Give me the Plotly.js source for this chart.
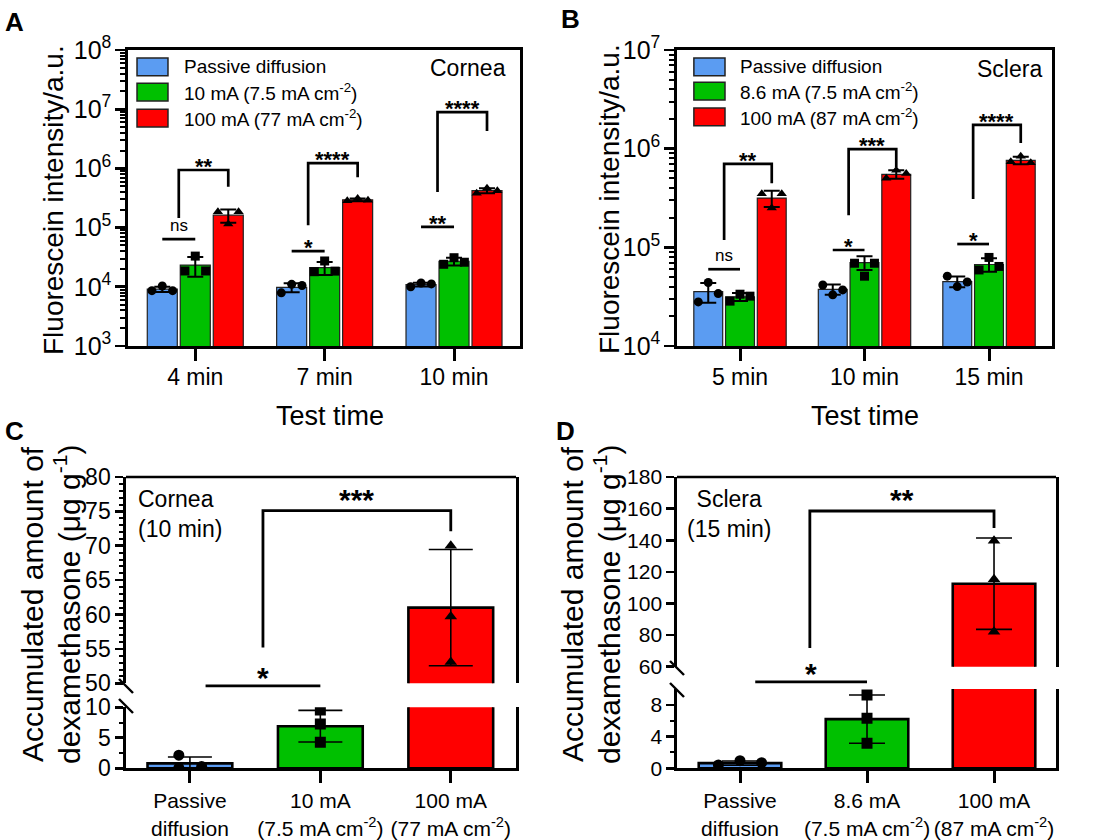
<!DOCTYPE html>
<html><head><meta charset="utf-8">
<script src="https://cdn.plot.ly/plotly-3.0.1.min.js"></script>
<style>html,body{margin:0;padding:0;background:#fff}</style>
</head><body><div id="chart" style="width:1096px;height:840px"></div>
<script>
// ---------------- DATA ----------------
// Panel A : cornea, fluorescein intensity (a.u.)
const timesA = ['4 min', '7 min', '10 min'];
const seriesA = ['Passive diffusion', '10 mA (7.5 mA cm<sup>-2</sup>)', '100 mA (77 mA cm<sup>-2</sup>)'];
const passiveMeanA = [9.1e3, 9.8e3, 1.09e4];
const passiveSdA   = [0.9e3, 1.7e3, 0.8e3];
const passivePtsA  = [[8.6e3, 1.03e4, 8.6e3], [7.9e3, 1.1e4, 1.05e4], [1.0e4, 1.16e4, 1.12e4]];
const lowMeanA = [2.33e4, 2.1e4, 2.7e4];
const lowSdA   = [0.85e4, 0.52e4, 0.4e4];
const lowPtsA  = [[1.85e4, 3.3e4, 1.85e4], [1.8e4, 2.73e4, 1.84e4], [2.4e4, 3.1e4, 2.6e4]];
const highMeanA = [1.62e5, 2.95e5, 4.2e5];
const highSdA   = [0.41e5, 0.15e5, 0.4e5];
const highPtsA  = [[1.86e5, 1.15e5, 1.86e5], [2.85e5, 3.1e5, 2.9e5], [3.8e5, 4.6e5, 4.2e5]];
// significance: pair = passive vs low current; bracket = (passive/low) vs high current
const sigPairA    = [{level: 6.4e4, label: 'ns'}, {level: 4.0e4, label: '*'}, {level: 1.03e5, label: '**'}];
const sigBracketA = [{left: 1.45e5, top: 9.4e5, right: 4.9e5, label: '**'},
                     {left: 1.1e5, top: 1.23e6, right: 7.1e5, label: '****'},
                     {left: 4.0e5, top: 8.9e6, right: 4.3e6, label: '****'}];

// Panel B : sclera, fluorescein intensity (a.u.)
const timesB = ['5 min', '10 min', '15 min'];
const seriesB = ['Passive diffusion', '8.6 mA (7.5 mA cm<sup>-2</sup>)', '100 mA (87 mA cm<sup>-2</sup>)'];
const passiveMeanB = [3.55e4, 3.75e4, 4.5e4];
const passiveSdB   = [0.8e4, 0.45e4, 0.57e4];
const passivePtsB  = [[2.8e4, 4.4e4, 3.4e4], [4.15e4, 3.3e4, 3.7e4], [5.1e4, 4.0e4, 4.45e4]];
const lowMeanB = [3.15e4, 7.0e4, 6.7e4];
const lowSdB   = [0.3e4, 1.1e4, 1.05e4];
const lowPtsB  = [[2.85e4, 3.35e4, 3.2e4], [6.9e4, 5.1e4, 6.9e4], [5.9e4, 7.9e4, 6.4e4]];
const highMeanB = [3.16e5, 5.5e5, 7.6e5];
const highSdB   = [0.59e5, 0.54e5, 0.66e5];
const highPtsB  = [[3.5e5, 2.5e5, 3.5e5], [5.0e5, 6.05e5, 5.6e5], [7.35e5, 8.4e5, 7.2e5]];
const sigPairB    = [{level: 6.0e4, label: 'ns'}, {level: 9.4e4, label: '*'}, {level: 1.08e5, label: '*'}];
const sigBracketB = [{left: 1.19e5, top: 7.0e5, right: 4.46e5, label: '**'},
                     {left: 2.12e5, top: 9.9e5, right: 6.5e5, label: '***'},
                     {left: 3.09e5, top: 1.74e6, right: 1.14e6, label: '****'}];

// Panel C : cornea (10 min), dexamethasone (ug/g)
const groupsC = ['Passive<br>diffusion', '10 mA<br>(7.5 mA cm<sup>-2</sup>)', '100 mA<br>(77 mA cm<sup>-2</sup>)'];
const meanC = [0.8, 6.9, 61.0];
const sdC   = [1.05, 2.6, 8.45];
const ptsC  = [[2.15, 0.05, 0.3], [9.55, 7.25, 4.25], [70.0, 59.7, 53.1]];
const sigC  = {pair: {from: 0.12, to: 1.0, level: 13.5, label: '*'},
               bracket: {lx: 0.56, rx: 2.0, left: 55.2, top: 75.1, right: 72.1, label: '***'}};

// Panel D : sclera (15 min), dexamethasone (ug/g)
const groupsD = ['Passive<br>diffusion', '8.6 mA<br>(7.5 mA cm<sup>-2</sup>)', '100 mA<br>(87 mA cm<sup>-2</sup>)'];
const meanD = [0.65, 6.2, 112.5];
const sdD   = [0.27, 3.05, 28.9];
const ptsD  = [[0.42, 0.96, 0.71], [9.25, 6.3, 3.15], [139.7, 115.3, 82.1]];
const sigD  = {pair: {from: 0.12, to: 1.0, level: 10.9, label: '*'},
               bracket: {lx: 0.55, rx: 2.0, left: 71.8, top: 158.5, right: 147.7, label: '**'}};

// ---------------- STYLE ----------------
const W = 1096, H = 840;
const px = v => v / W;
const py = v => 1 - v / H;
const FONT = 'Liberation Sans, Arial, Helvetica, sans-serif';
const BLUE = '#5b9cf2', GREEN = '#00c000', RED = '#ff0000';
const COLORS = [BLUE, GREEN, RED];
const SYMBOLS = ['circle', 'square', 'triangle-up'];
const SLOT = 0.255, BARW = 0.232, JIT = [-0.08, 0, 0.08];
const jitC = [[-0.085, -0.085, 0.09], [0, 0, 0], [0, 0, 0]];
const jitD = [[-0.17, 0, 0.17], [0, 0, 0], [0, 0, 0]];

const traces = [];
const shapes = [];
const annotations = [];

function groupedPanel(xa, ya, means, sds, pts) {
  means.forEach((m, k) => {
    const off = (k - 1) * SLOT;
    traces.push({type: 'bar', x: m.map((_, i) => i + off), y: m, width: BARW,
      xaxis: xa, yaxis: ya, showlegend: false, hoverinfo: 'skip',
      marker: {color: COLORS[k], line: {color: '#222', width: 1.2}},
      error_y: {type: 'data', array: sds[k], visible: true, color: '#000', thickness: 2, width: 8}});
  });
  pts.forEach((groups, k) => {
    const off = (k - 1) * SLOT;
    const xs = [], ys = [];
    groups.forEach((trip, i) => trip.forEach((v, j) => { xs.push(i + off + JIT[j]); ys.push(v); }));
    traces.push({type: 'scatter', mode: 'markers', x: xs, y: ys, xaxis: xa, yaxis: ya,
      showlegend: false, hoverinfo: 'skip', cliponaxis: false,
      marker: {symbol: SYMBOLS[k], color: '#000', size: 9}});
  });
}

function groupedSig(xa, ya, pairs, brackets) {
  const xs = [], ys = [];
  pairs.forEach((p, i) => {
    xs.push(i - SLOT, i, null); ys.push(p.level, p.level, null);
    const isNs = p.label === 'ns';
    annotations.push({xref: xa, yref: ya, x: i - SLOT / 2, y: Math.log10(p.level), text: p.label,
      showarrow: false, yanchor: 'bottom', yshift: isNs ? 2 : -11,
      font: {size: isNs ? 17 : 22, color: '#000', family: FONT, weight: isNs ? 'normal' : 'bold'}});
  });
  brackets.forEach((b, i) => {
    const lx = i - SLOT / 2, rx = i + SLOT;
    xs.push(lx, lx, rx, rx, null); ys.push(b.left, b.top, b.top, b.right, null);
    annotations.push({xref: xa, yref: ya, x: (lx + rx) / 2, y: Math.log10(b.top), text: b.label,
      showarrow: false, yanchor: 'bottom', yshift: -11,
      font: {size: 22, color: '#000', family: FONT, weight: 'bold'}});
  });
  traces.push({type: 'scatter', mode: 'lines', x: xs, y: ys, xaxis: xa, yaxis: ya,
    showlegend: false, hoverinfo: 'skip', line: {color: '#000', width: 2.7}});
}

function brokenPanel(xa, yaxes, means, sds, pts, jit, capW) {
  yaxes.forEach(ya => {
    traces.push({type: 'bar', x: [0, 1, 2], y: means, width: 0.65, xaxis: xa, yaxis: ya,
      showlegend: false, hoverinfo: 'skip',
      marker: {color: COLORS, line: {color: '#000', width: 2.6}},
      error_y: {type: 'data', array: sds, visible: true, color: '#000', thickness: 1.6, width: capW}});
    const xs = [], ys = [], sy = [];
    pts.forEach((trip, i) => trip.forEach((v, j) => { xs.push(i + jit[i][j]); ys.push(v); sy.push(SYMBOLS[i]); }));
    traces.push({type: 'scatter', mode: 'markers', x: xs, y: ys, xaxis: xa, yaxis: ya,
      showlegend: false, hoverinfo: 'skip',
      marker: {symbol: sy, color: '#000', size: 11}});
  });
}

groupedPanel('x', 'y', [passiveMeanA, lowMeanA, highMeanA], [passiveSdA, lowSdA, highSdA], [passivePtsA, lowPtsA, highPtsA]);
groupedSig('x', 'y', sigPairA, sigBracketA);
groupedPanel('x2', 'y2', [passiveMeanB, lowMeanB, highMeanB], [passiveSdB, lowSdB, highSdB], [passivePtsB, lowPtsB, highPtsB]);
groupedSig('x2', 'y2', sigPairB, sigBracketB);
brokenPanel('x3', ['y3', 'y4'], meanC, sdC, ptsC, jitC, 22);
brokenPanel('x4', ['y5', 'y6'], meanD, sdD, ptsD, jitD, 18);

// ---------------- AXES ----------------
const baseX = {ticks: 'outside', ticklen: 12, tickwidth: 3, tickcolor: '#000', showline: true,
  linewidth: 2.7, linecolor: '#000', showgrid: false, zeroline: false, tickmode: 'array',
  tickvals: [0, 1, 2], tickangle: 0, fixedrange: true};
const baseY = {ticks: 'outside', tickwidth: 2.6, tickcolor: '#000', showline: true, linewidth: 2.7,
  linecolor: '#000', showgrid: false, zeroline: false, fixedrange: true};

const axA_y = Object.assign({}, baseY, {domain: [py(346), py(50)], type: 'log', range: [3, 8], dtick: 1,
  exponentformat: 'power', ticklen: 10, mirror: true, anchor: 'x', tickfont: {size: 20},
  minor: {ticks: 'outside', ticklen: 5, tickwidth: 2, tickcolor: '#000', dtick: 'D1', showgrid: false}});
const axB_y = Object.assign({}, axA_y, {domain: [py(346), py(50)], range: [4, 7], anchor: 'x2'});
const axC_low = Object.assign({}, baseY, {domain: [py(768.3), py(707.3)], range: [0, 10], dtick: 5, tick0: 0,
  ticklen: 8, anchor: 'x3', mirror: true, tickfont: {size: 23},
  minor: {ticks: 'outside', ticklen: 4, tickwidth: 2, tickcolor: '#000', dtick: 2.5, tick0: 0}});
const axC_up = Object.assign({}, baseY, {domain: [py(683.3), py(477)], range: [50, 80], dtick: 5, tick0: 50,
  ticklen: 8, anchor: 'x3', mirror: true, tickfont: {size: 23},
  minor: {ticks: 'outside', ticklen: 4, tickwidth: 2, tickcolor: '#000', dtick: 1, tick0: 50}});
const axD_low = Object.assign({}, baseY, {domain: [py(768.3), py(689)], range: [0, 10], tickmode: 'array',
  tickvals: [0, 4, 8], ticklen: 8, anchor: 'x4', mirror: true, tickfont: {size: 21},
  minor: {ticks: 'outside', ticklen: 4, tickwidth: 2, tickcolor: '#000', tickmode: 'array', tickvals: [2, 6]}});
const axD_up = Object.assign({}, baseY, {domain: [py(666.7), py(477)], range: [60, 180], dtick: 20, tick0: 60,
  ticklen: 8, anchor: 'x4', mirror: true, tickfont: {size: 21}});

const layout = {
  width: W, height: H, margin: {l: 0, r: 0, t: 0, b: 0},
  paper_bgcolor: '#fff', plot_bgcolor: 'rgba(0,0,0,0)',
  font: {family: FONT, color: '#000'},
  showlegend: false, barmode: 'overlay',
  xaxis: Object.assign({}, baseX, {domain: [px(128), px(520)], range: [-0.52, 2.51], ticktext: timesA,
    anchor: 'y', mirror: true, tickfont: {size: 23}, ticklabelstandoff: -3}),
  yaxis: axA_y,
  xaxis2: Object.assign({}, baseX, {domain: [px(677), px(1052)], range: [-0.506, 2.506], ticktext: timesB,
    anchor: 'y2', mirror: true, tickfont: {size: 23}, ticklabelstandoff: -3}),
  yaxis2: axB_y,
  xaxis3: Object.assign({}, baseX, {domain: [px(126), px(516)], range: [-0.49, 2.5], ticktext: groupsC,
    anchor: 'y3', tickfont: {size: 21}}),
  yaxis3: axC_low, yaxis4: axC_up,
  xaxis4: Object.assign({}, baseX, {domain: [px(677), px(1056)], range: [-0.496, 2.488], ticktext: groupsD,
    anchor: 'y5', tickfont: {size: 21}}),
  yaxis5: axD_low, yaxis6: axD_up,
  shapes: shapes, annotations: annotations
};

// map a value on a (linear) y axis to paper coordinates
function yPaper(ax, v) {
  return ax.domain[0] + (v - ax.range[0]) / (ax.range[1] - ax.range[0]) * (ax.domain[1] - ax.domain[0]);
}

// ---- frames / breaks for C and D ----
function brokenFrame(xa, low, up, breakLow, breakUp, axisPx) {
  shapes.push({type: 'line', xref: xa + ' domain', yref: 'paper', x0: 0, x1: 1,
    y0: up.domain[1], y1: up.domain[1], line: {color: '#000', width: 2.7}});
  [breakUp, breakLow].forEach(yp => {
    shapes.push({type: 'line', xref: 'paper', yref: 'paper', x0: px(axisPx - 7), x1: px(axisPx + 7),
      y0: py(yp - 7), y1: py(yp + 7), line: {color: '#000', width: 2.4}});
  });
}
brokenFrame('x3', axC_low, axC_up, 706, 686, 126);
brokenFrame('x4', axD_low, axD_up, 690, 668, 677);

function brokenSig(xa, low, up, sig, starSize) {
  const p = sig.pair, b = sig.bracket;
  const yp = yPaper(low, p.level);
  shapes.push({type: 'line', xref: xa, yref: 'paper', x0: p.from, x1: p.to, y0: yp, y1: yp,
    line: {color: '#000', width: 2.8}});
  annotations.push({xref: xa, yref: 'paper', x: (p.from + p.to) / 2, y: yp, text: p.label, showarrow: false,
    yanchor: 'bottom', yshift: -10, font: {size: starSize, family: FONT, color: '#000', weight: 'bold'}});
  const yl = yPaper(up, b.left), yt = yPaper(up, b.top), yr = yPaper(up, b.right);
  shapes.push({type: 'path', xref: xa, yref: 'paper',
    path: `M${b.lx},${yl} L${b.lx},${yt} L${b.rx},${yt} L${b.rx},${yr}`,
    line: {color: '#000', width: 2.8}});
  annotations.push({xref: xa, yref: 'paper', x: (b.lx + b.rx) / 2, y: yt, text: b.label, showarrow: false,
    yanchor: 'bottom', yshift: -7, font: {size: starSize, family: FONT, color: '#000', weight: 'bold'}});
}
brokenSig('x3', axC_low, axC_up, sigC, 30);
brokenSig('x4', axD_low, axD_up, sigD, 30);

// ---- legends (A, B) ----
function legend(xa, ya, names, sx0, sx1, rows, tx) {
  names.forEach((n, k) => {
    shapes.push({type: 'rect', xref: xa + ' domain', yref: ya + ' domain', x0: sx0, x1: sx1,
      y0: rows[k] - 0.03, y1: rows[k] + 0.03, fillcolor: COLORS[k], line: {color: '#222', width: 1.5}});
    annotations.push({xref: xa + ' domain', yref: ya + ' domain', x: tx, y: rows[k], text: n,
      showarrow: false, xanchor: 'left', yanchor: 'middle', font: {size: 19, family: FONT, color: '#000'}});
  });
}
legend('x', 'y', seriesA, 0.023, 0.102, [0.9426, 0.858, 0.770], 0.138);
legend('x2', 'y2', seriesB, 0.045, 0.128, [0.943, 0.861, 0.774], 0.163);
annotations.push({xref: 'x domain', yref: 'y domain', x: 0.969, y: 0.939, text: 'Cornea', showarrow: false,
  xanchor: 'right', yanchor: 'middle', font: {size: 23, family: FONT, color: '#000'}});
annotations.push({xref: 'x2 domain', yref: 'y2 domain', x: 0.979, y: 0.935, text: 'Sclera', showarrow: false,
  xanchor: 'right', yanchor: 'middle', font: {size: 23, family: FONT, color: '#000'}});
annotations.push({xref: 'x3 domain', yref: 'paper', x: 0.026, y: py(514), text: 'Cornea<br>(10 min)',
  showarrow: false, xanchor: 'left', yanchor: 'middle', align: 'left', font: {size: 23, family: FONT, color: '#000'}});
annotations.push({xref: 'x4 domain', yref: 'paper', x: 0.136, y: py(514), text: 'Sclera<br>(15 min)',
  showarrow: false, xanchor: 'center', yanchor: 'middle', align: 'center', font: {size: 23, family: FONT, color: '#000'}});

// ---- titles & panel letters ----
function txt(x, y, text, size, angle, bold) {
  annotations.push({xref: 'paper', yref: 'paper', x: px(x), y: py(y), text: text, showarrow: false,
    xanchor: 'center', yanchor: 'middle', textangle: angle || 0,
    font: {size: size, family: FONT, color: '#000', weight: bold ? 'bold' : 'normal'}});
}
txt(53, 200, 'Fluorescein intensity/a.u.', 28, -90);
txt(609, 199, 'Fluorescein intensity/a.u.', 28, -90);
txt(330, 416, 'Test time', 27);
txt(865, 416, 'Test time', 27);
txt(32, 604, 'Accumulated amount of', 30, -90);
txt(67, 604, 'dexamethasone (μg g<sup>-1</sup>)', 30, -90);
txt(572, 604, 'Accumulated amount of', 30, -90);
txt(607, 604, 'dexamethasone (μg g<sup>-1</sup>)', 30, -90);
txt(14, 22, 'A', 26, 0, true);
txt(570, 19, 'B', 26, 0, true);
txt(14, 431, 'C', 26, 0, true);
txt(565, 431, 'D', 26, 0, true);

Plotly.newPlot('chart', traces, layout, {staticPlot: true, displayModeBar: false});
</script>
</body></html>
